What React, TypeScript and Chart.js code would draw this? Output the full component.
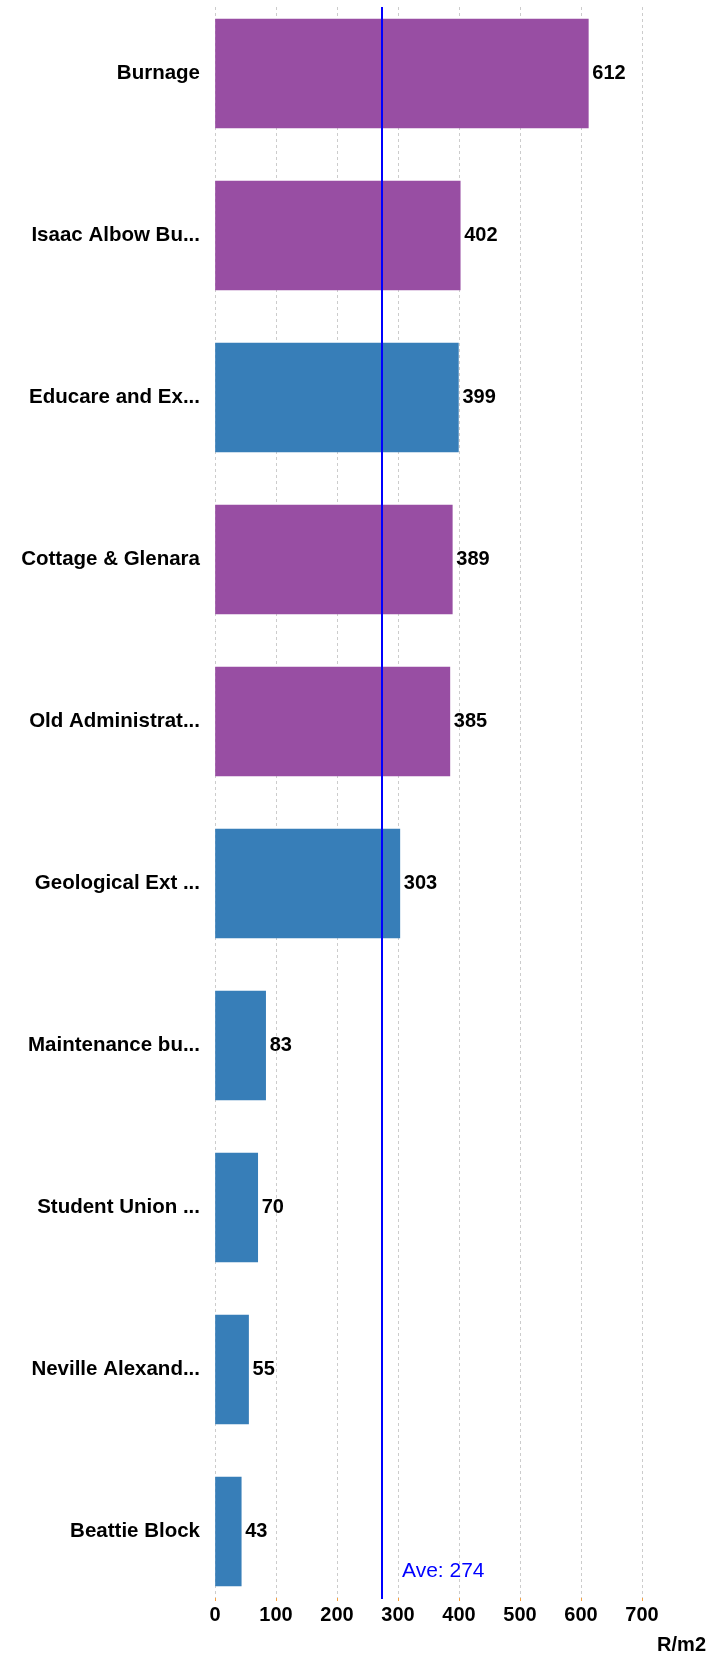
import React, { useEffect, useRef } from "react";
import { Chart, registerables } from "chart.js";

Chart.register(...registerables);

const BUILDINGS: string[] = [
  "Burnage",
  "Isaac Albow Bu...",
  "Educare and Ex...",
  "Cottage & Glenara",
  "Old Administrat...",
  "Geological Ext ...",
  "Maintenance bu...",
  "Student Union ...",
  "Neville Alexand...",
  "Beattie Block",
];
const COST_PER_M2: number[] = [612, 402, 399, 389, 385, 303, 83, 70, 55, 43];
const GROUP: string[] = ["A", "A", "B", "A", "A", "B", "B", "B", "B", "B"];
const GROUP_COLORS: Record<string, string> = { A: "#984EA3", B: "#377EB8" };
const AVERAGE = 274;
const X_TICKS: number[] = [0, 100, 200, 300, 400, 500, 600, 700];
const UNIT = "R/m2";

const FONT = "'Liberation Sans', Arial, Helvetica, sans-serif";

const overlayPlugin = {
  id: "overlay",
  afterDatasetsDraw(chart: any) {
    const { ctx, chartArea, scales } = chart;
    const xs = scales.x;
    const ys = scales.y;
    ctx.save();
    // average line
    const ax = Math.round(xs.getPixelForValue(AVERAGE));
    ctx.strokeStyle = "#0000FF";
    ctx.lineWidth = 2;
    ctx.beginPath();
    ctx.moveTo(ax, chartArea.top);
    ctx.lineTo(ax, chartArea.bottom + 1);
    ctx.stroke();
    ctx.fillStyle = "#0000FF";
    ctx.font = `21px ${FONT}`;
    ctx.textAlign = "left";
    ctx.textBaseline = "middle";
    ctx.fillText(`Ave: ${AVERAGE}`, ax + 20, chartArea.bottom - 27);

    // value labels
    ctx.fillStyle = "#000000";
    ctx.font = `bold 20px ${FONT}`;
    COST_PER_M2.forEach((v, i) => {
      const x = xs.getPixelForValue(v) + 4;
      const y = ys.getPixelForValue(i);
      ctx.fillText(String(v), x, y);
    });

    // unit title
    ctx.textAlign = "right";
    ctx.fillText(UNIT, chart.width - 3, 1645);
    ctx.restore();
  },
};

export default function App() {
  const canvasRef = useRef<HTMLCanvasElement | null>(null);

  useEffect(() => {
    document.body.style.margin = "0";
    const canvas = canvasRef.current;
    if (!canvas) return;
    const n = BUILDINGS.length;
    const chart = new Chart(canvas, {
      type: "bar",
      data: {
        datasets: [
          {
            data: COST_PER_M2.map((v, i) => ({ x: v, y: i })) as any,
            backgroundColor: GROUP.map((g) => GROUP_COLORS[g]),
            borderWidth: 0,
            barThickness: 109,
          },
        ],
      },
      options: {
        indexAxis: "y",
        animation: false,
        responsive: false,
        devicePixelRatio: 1,
        layout: { padding: { top: 7, right: 67, left: 0, bottom: 0 } },
        plugins: {
          legend: { display: false },
          tooltip: { enabled: false },
        },
        scales: {
          y: {
            type: "linear",
            reverse: true,
            offset: false,
            bounds: "data",
            min: -0.4105,
            max: n - 1 + 0.4105,
            afterBuildTicks: (scale: any) => {
              scale.ticks = BUILDINGS.map((_, i) => ({ value: i }));
            },
            afterFit: (scale: any) => {
              scale.width = 215;
              scale.paddingTop = 0;
              scale.paddingBottom = 0;
            },
            grid: { display: false, drawTicks: false, offset: false },
            border: { display: false },
            ticks: {
              autoSkip: false,
              padding: 15,
              color: "#000000",
              font: { family: FONT, size: 20.5, weight: "bold" },
              callback: (value: any) => BUILDINGS[Number(value)] ?? "",
            },
          },
          x: {
            type: "linear",
            min: X_TICKS[0],
            max: X_TICKS[X_TICKS.length - 1],
            afterBuildTicks: (scale: any) => {
              scale.ticks = X_TICKS.map((v) => ({ value: v }));
            },
            afterFit: (scale: any) => {
              scale.height = 56;
              scale.paddingLeft = 0;
              scale.paddingRight = 0;
            },
            grid: {
              color: "#cccccc",
              lineWidth: 1,
              drawTicks: true,
              tickLength: 3,
              tickColor: "#F5A040",
              tickBorderDash: [],
            } as any,
            border: { display: false, dash: [3, 3] },
            ticks: {
              padding: 2,
              color: "#000000",
              font: { family: FONT, size: 20, weight: "bold" },
            },
          },
        },
      },
      plugins: [overlayPlugin],
    });
    return () => chart.destroy();
  }, []);

  return (
    <div style={{ width: 709, height: 1654 }}>
      <canvas ref={canvasRef} width={709} height={1654} style={{ display: "block" }} />
    </div>
  );
}
